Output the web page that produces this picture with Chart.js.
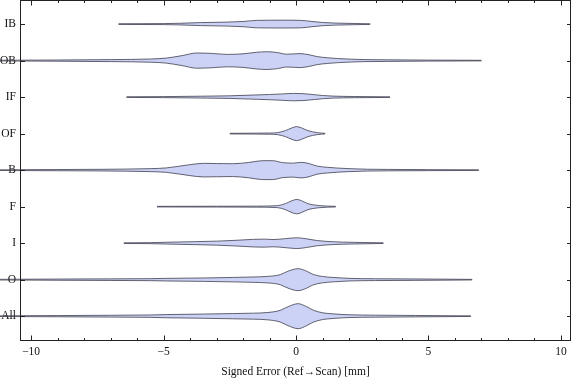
<!DOCTYPE html>
<html><head><meta charset="utf-8">
<script src="https://cdn.jsdelivr.net/npm/chart.js@4/dist/chart.umd.min.js"></script>
<style>html,body{margin:0;padding:0;background:#fff}#wrap{width:576px;height:381px}</style>
</head><body><div id="wrap"><canvas id="c"></canvas></div>
<script>
const categories = ['IB','OB','IF','OF','B','F','I','O','All'];
const xTicks = [-10,-5,0,5,10];
const axisTitle = 'Signed Error (Ref\u2192Scan) [mm]';

// per-category density profiles: error values (mm) and relative density (half-width)
const ibX = [-6.7,-5.0,-4.4,-3.6,-2.6,-2.0,-1.5,-0.5,0.2,0.6,1.0,1.5,2.2,2.8];
const ibD = [0.3,0.5,0.8,1.5,2.0,2.6,3.7,3.9,3.7,2.6,1.6,1.0,0.6,0.3];
const obX = [-11.5,-9,-7,-5.5,-4.9,-4.3,-3.75,-3.2,-2.6,-2.0,-1.5,-1.1,-0.7,-0.35,0.15,0.5,0.8,1.2,1.6,2.1,2.6,3.5,5,7.0];
const obD = [0.3,0.6,1.0,1.6,2.5,5.0,7.6,7.2,6.2,6.8,8.3,8.9,8.0,6.4,7.0,5.8,4.0,2.8,2.0,1.4,1.0,0.8,0.5,0.3];
const ifX = [-6.4,-5,-3.6,-2.5,-1.7,-1.0,-0.5,-0.1,0.3,0.7,1.0,1.4,2.2,3.55];
const ifD = [0.3,0.5,0.9,1.3,2.0,2.6,3.2,3.7,3.4,2.4,1.6,1.0,0.6,0.3];
const ofX = [-2.5,-1.5,-1.0,-0.7,-0.4,-0.15,0.02,0.2,0.45,0.8,1.1];
const ofD = [0.3,0.45,0.6,1.0,3.0,5.8,7.0,5.8,3.0,1.0,0.3];
const bX = [-11.5,-9,-7.4,-5.5,-4.9,-4.0,-3.5,-3.0,-2.4,-1.8,-1.3,-0.9,-0.5,-0.1,0.2,0.5,0.8,1.2,1.6,2.0,2.7,3.5,5,6.9];
const bD = [0.3,0.6,0.8,1.5,2.2,5.5,6.8,6.6,6.4,7.6,9.4,9.5,7.5,7.0,7.8,6.5,4.0,2.8,2.0,1.5,0.9,0.7,0.5,0.3];
const fX = [-5.25,-3,-1.5,-0.7,-0.4,-0.15,0.03,0.2,0.45,0.9,1.5];
const fD = [0.3,0.4,0.5,1.0,3.0,6.0,7.2,6.0,3.0,1.0,0.3];
const iX = [-6.5,-5.5,-4.9,-3.8,-3.0,-2.3,-1.6,-1.2,-0.87,-0.4,0.03,0.4,0.8,1.4,2.2,3.3];
const iD = [0.3,0.5,0.9,1.5,2.0,2.8,3.8,4.0,3.6,4.5,5.4,4.3,2.6,1.4,0.8,0.3];
const oX = [-11.5,-9,-7,-5.5,-4.9,-3.5,-2.4,-1.6,-1.1,-0.6,-0.3,0.08,0.4,0.65,1.0,1.4,2.0,3,4.5,6.65];
const oD = [0.3,0.6,0.8,1.0,1.3,1.7,2.2,2.7,3.2,5.0,8.5,11,8.5,5.2,3.2,2.2,1.3,0.9,0.7,0.3];
const allX = [-11.5,-9,-7,-5.5,-4.9,-3.5,-2.4,-1.6,-1.1,-0.6,-0.3,0.08,0.4,0.65,1.0,1.4,2.0,3,4.5,6.6];
const allD = [0.3,0.6,0.9,1.2,1.6,2.1,2.6,3.0,3.6,5.8,9.5,12.5,9.5,6.0,3.4,2.3,1.4,1.0,0.7,0.3];

const profiles = [[ibX,ibD],[obX,obD],[ifX,ifD],[ofX,ofD],[bX,bD],[fX,fD],[iX,iD],[oX,oD],[allX,allD]];
const WIDTH = 1/36.5;
const FILL = 'rgb(204,210,246)';
const EDGE = 'rgba(55,55,70,0.85)';

const datasets = [];
profiles.forEach(([xs, ds], i) => {
  const common = {pointRadius:0, borderColor:EDGE, borderWidth:0.9, cubicInterpolationMode:'monotone', clip:false};
  datasets.push(Object.assign({data: xs.map((x,k)=>({x, y: i - ds[k]*WIDTH})), fill:false}, common));
  datasets.push(Object.assign({data: xs.map((x,k)=>({x, y: i + ds[k]*WIDTH})), fill:'-1', backgroundColor:FILL}, common));
});

const framePlugin = {
  id:'frame',
  afterDatasetsDraw(chart){
    const {ctx, chartArea:a, scales:{x, y}} = chart;
    ctx.save();
    ctx.strokeStyle = '#222'; ctx.lineWidth = 1;
    ctx.strokeRect(a.left+0.5, a.top+0.5, a.right-a.left-1, a.bottom-a.top-1);
    ctx.beginPath();
    for (let v = -10; v <= 10; v++) {
      const px = Math.round(x.getPixelForValue(v)) + 0.5;
      const L = (v % 5 === 0) ? 5.5 : 3;
      ctx.moveTo(px, a.bottom); ctx.lineTo(px, a.bottom - L);
      ctx.moveTo(px, a.top); ctx.lineTo(px, a.top + L);
    }
    categories.forEach((c, i) => {
      const py = Math.round(y.getPixelForValue(i)) + 0.5;
      ctx.moveTo(a.left, py); ctx.lineTo(a.left + 5, py);
      ctx.moveTo(a.right, py); ctx.lineTo(a.right - 4, py);
    });
    ctx.stroke();
    ctx.restore();
  }
};

const font = {family:'"Liberation Serif", "Times New Roman", serif', size:11.5};
new Chart(document.getElementById('c'), {
  type:'line',
  data:{datasets},
  options:{
    responsive:true, maintainAspectRatio:false, animation:false,
    layout:{padding:{top:0,right:5,left:0,bottom:0}},
    plugins:{legend:{display:false}, tooltip:{enabled:false}},
    scales:{
      x:{type:'linear', min:-10.42, max:10.38,
        grid:{display:false, drawTicks:false}, border:{display:false},
        afterBuildTicks(s){ s.ticks = xTicks.map(v=>({value:v})); },
        afterFit(s){ s.height = 40; s.paddingLeft = 0; s.paddingRight = 0; },
        ticks:{font, color:'#111', padding:4, maxRotation:0, autoSkip:false,
          callback:(v)=> v < 0 ? '\u2212' + Math.abs(v) : String(v)},
        title:{display:true, text:axisTitle, font, color:'#111', padding:{top:0,bottom:2}}
      },
      y:{type:'linear', reverse:true, min:-0.66, max:8.68,
        grid:{display:false, drawTicks:false}, border:{display:false},
        afterBuildTicks(s){ s.ticks = categories.map((c,i)=>({value:i})); },
        afterFit(s){ s.width = 20; s.paddingTop = 0; s.paddingBottom = 0; },
        ticks:{font, color:'#111', padding:4, autoSkip:false,
          callback:(v)=> categories[v]}
      }
    }
  },
  plugins:[framePlugin]
});
</script></body></html>
